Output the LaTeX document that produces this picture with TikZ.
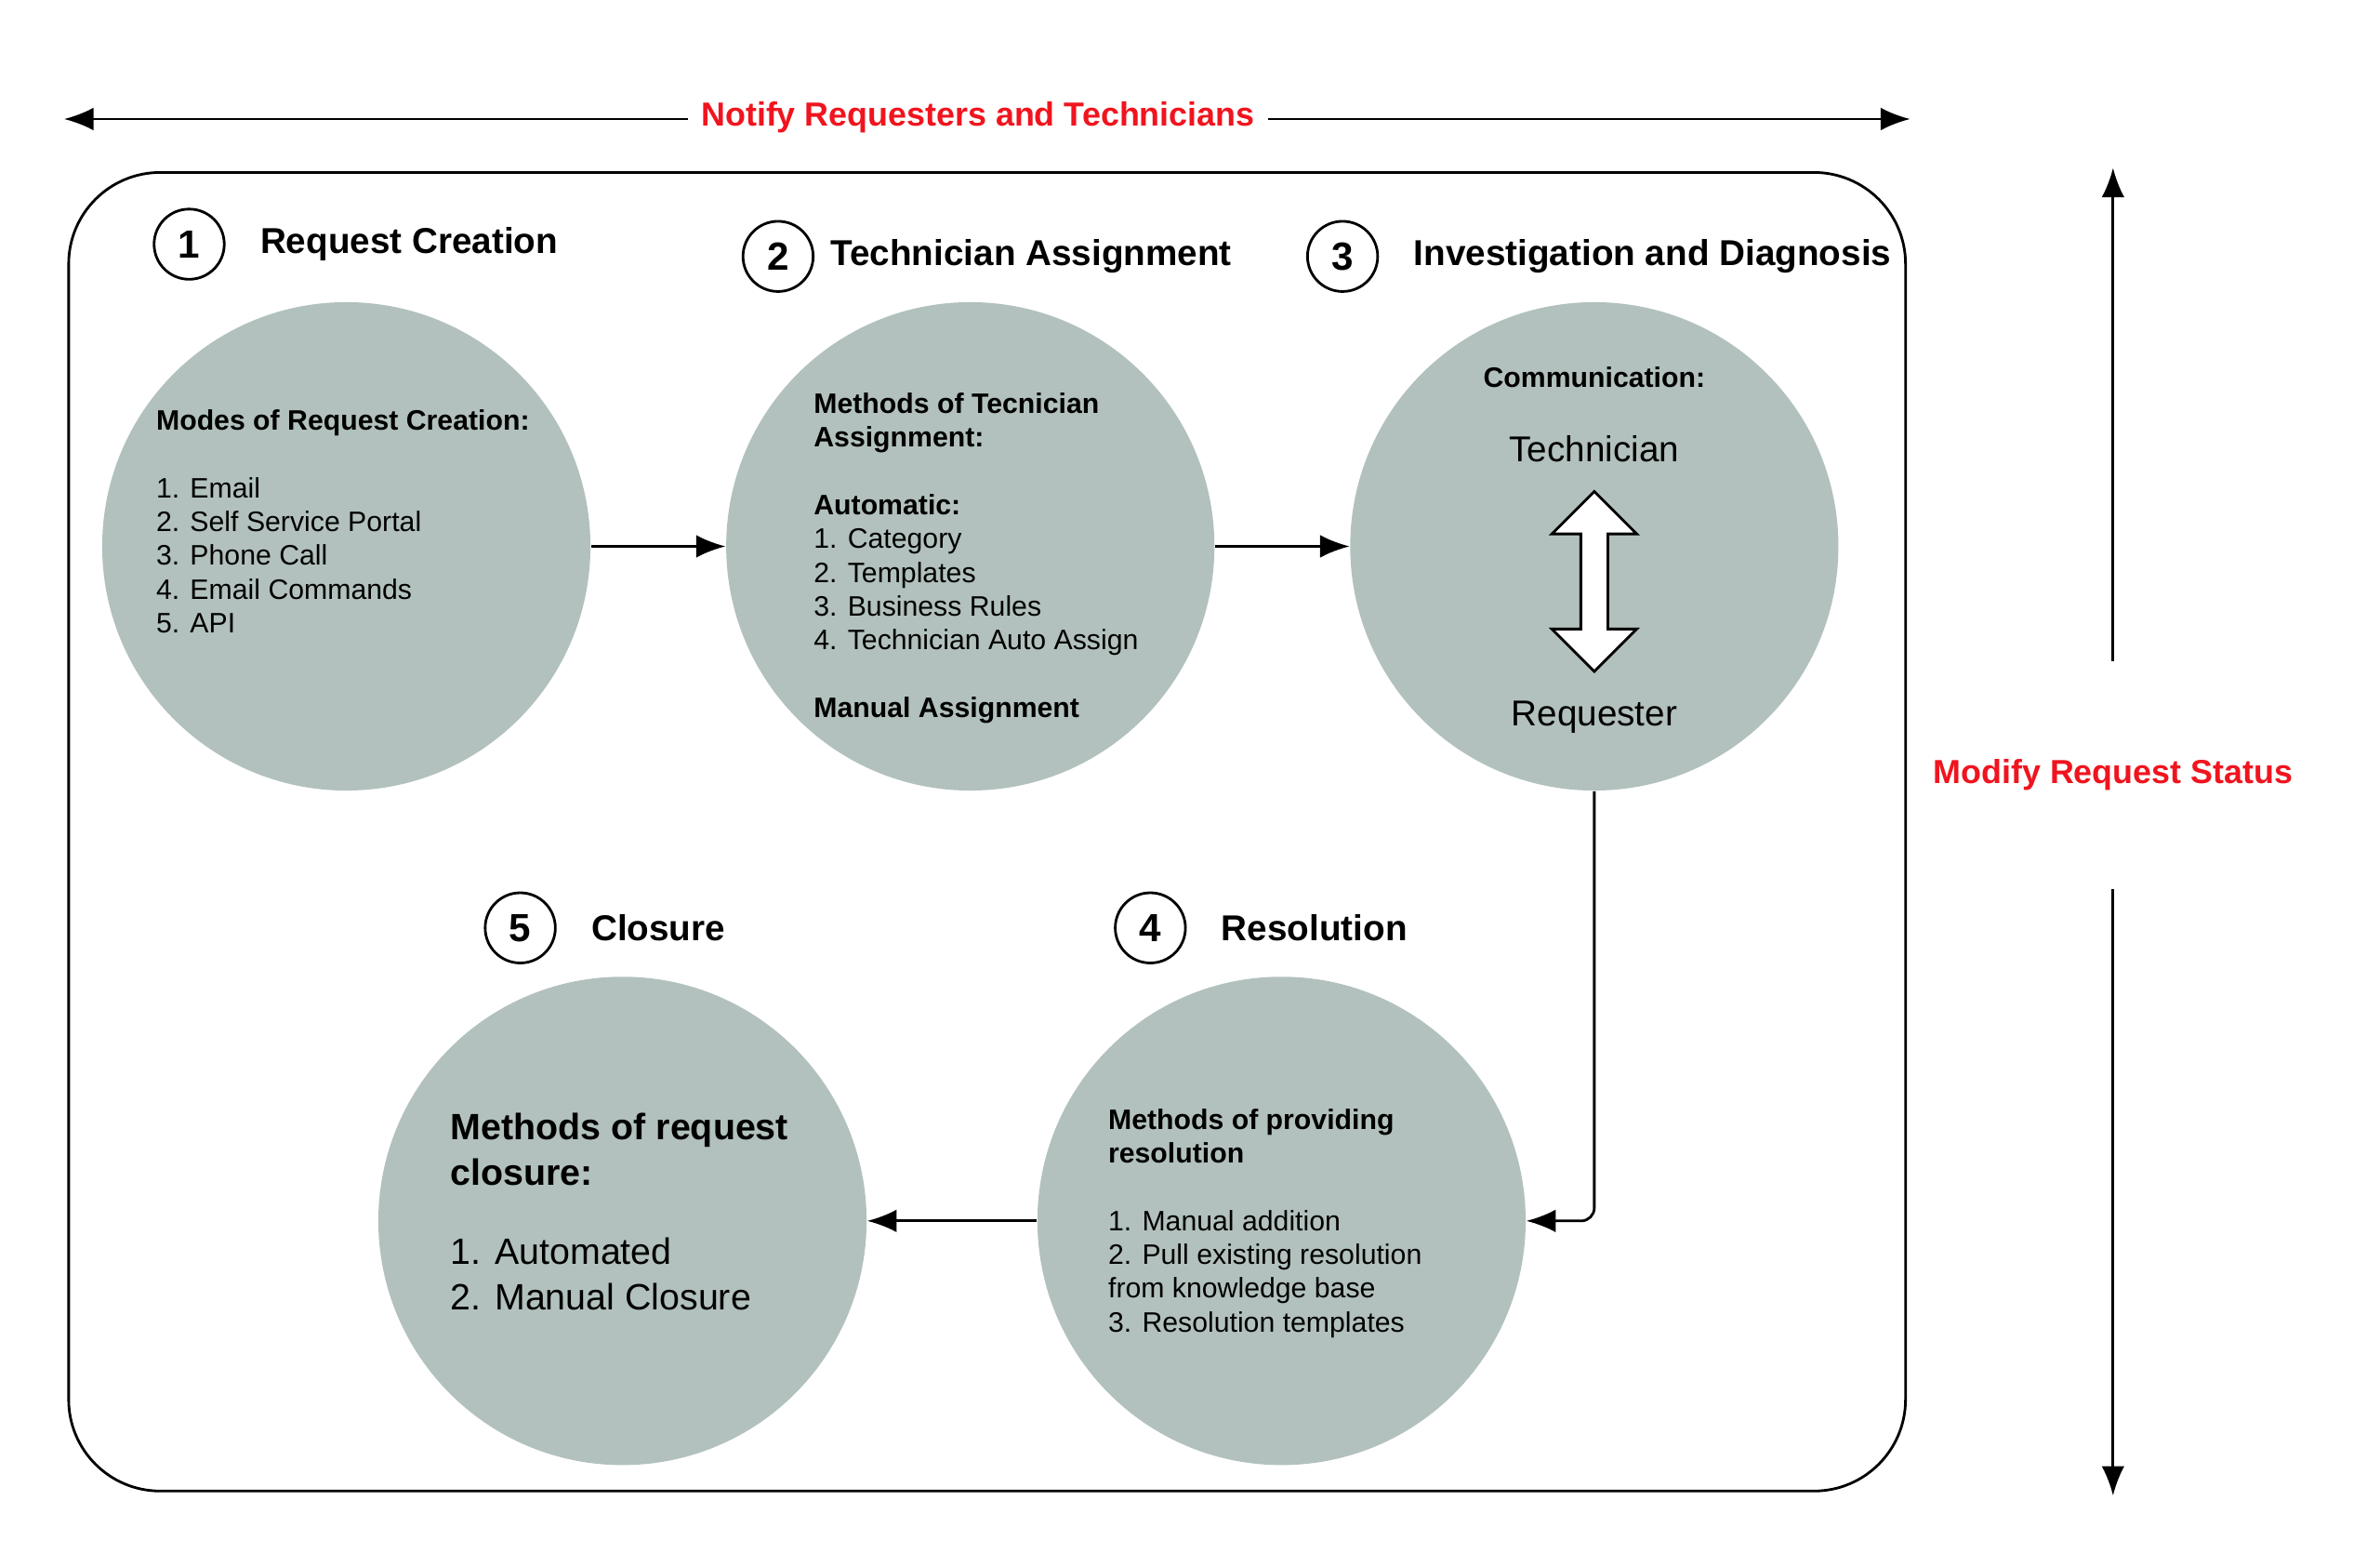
\documentclass[tikz,border=0pt]{standalone}
\usepackage{fontspec}
\setmainfont{Liberation Sans}
\usetikzlibrary{positioning, arrows.meta, shapes.arrows}

\definecolor{stagegray}{HTML}{B2C1BD}
\definecolor{notered}{HTML}{F0141E}

\begin{document}
\begin{tikzpicture}[
    x=0.01641cm, y=-0.01641cm,
    stage/.style={circle, fill=stagegray, minimum size=320*0.01641cm, inner sep=0pt},
    num/.style={circle, draw=black, thick, minimum size=46*0.01641cm, inner sep=0pt, font=\bfseries\large},
    title/.style={right=0.25cm of #1, font=\bfseries\fontsize{11}{13}\selectfont},
    body/.style={anchor=north west, align=left, inner sep=0pt, font=\fontsize{8.6}{10.3}\selectfont},
    arrow/.style={-{Latex[length=9pt,width=7pt]}, thick},
    redlabel/.style={text=notered, font=\bfseries\fontsize{10.2}{12}\selectfont, fill=white, inner sep=4pt}
]
\useasboundingbox (0,0) rectangle (1560,1018);

% --- Frame and outer arrows ---
\draw[thick, rounded corners=28] (45,113) rectangle (1249,977);
\coordinate (nl) at (42,78);
\coordinate (nr) at (1252,78);
\draw[{Latex[length=9pt,width=7pt]}-{Latex[length=9pt,width=7pt]}, thick] (nl) -- (nr);
\node[redlabel] (notify) at (641,77) {Notify Requesters and Technicians};
\coordinate (mt) at (1385,110);
\coordinate (mb) at (1385,980);
\draw[{Latex[length=9pt,width=7pt]}-{Latex[length=9pt,width=7pt]}, thick] (mt) -- (mb);
\node[redlabel, inner ysep=30pt] (modify) at (1385,508) {Modify Request Status};

% --- Stages ---
\node[stage] (creation) at (227,358) {};
\node[stage] (assign) at (636,358) {};
\node[stage] (diagnose) at (1045,358) {};
\node[stage] (resolve) at (840,800) {};
\node[stage] (closure) at (408,800) {};

% --- Numbers and titles ---
\node[num] (n1) at (124,160) {1};
\node[title=n1] {Request Creation};
\node[num] (n2) at (510,168) {2};
\node[title=n2, right=0.05cm of n2] {Technician Assignment};
\node[num] (n3) at (880,168) {3};
\node[title=n3] {Investigation and Diagnosis};
\node[num] (n4) at (754,608) {4};
\node[title=n4] {Resolution};
\node[num] (n5) at (341,608) {5};
\node[title=n5] {Closure};

% --- Stage contents ---
\node[body] (t1) at (102,268) {\textbf{Modes of Request Creation:}\\[10.5pt]
  1. Email\\2. Self Service Portal\\3. Phone Call\\4. Email Commands\\5. API};
\node[body] (t2) at (533,257) {\textbf{Methods of Tecnician}\\\textbf{Assignment:}\\[10.5pt]
  \textbf{Automatic:}\\1. Category\\2. Templates\\3. Business Rules\\4. Technician Auto Assign\\[10.5pt]
  \textbf{Manual Assignment}};
\node[body, anchor=north] (t3) at (1045,240) {\textbf{Communication:}};
\node[font=\fontsize{11}{13}\selectfont] (tech) at (1045,294) {Technician};
\node[font=\fontsize{11}{13}\selectfont] (req) at (1045,470) {Requester};
\node[double arrow, draw=black, thick, fill=white, rotate=90, minimum width=26pt,
  double arrow head extend=3pt, minimum height=118*0.01641cm, inner sep=1pt] (comm) at (1045,381) {};
\node[body] (t4) at (726,726) {\textbf{Methods of providing}\\\textbf{resolution}\\[10.5pt]
  1. Manual addition\\2. Pull existing resolution\\from knowledge base\\3. Resolution templates};
\node[body, font=\fontsize{11.2}{14}\selectfont] (t5) at (295,729) {\textbf{Methods of request}\\\textbf{closure:}\\[10pt]
  1. Automated\\2. Manual Closure};

% --- Flow ---
\draw[arrow] (creation) -- (assign);
\draw[arrow] (assign) -- (diagnose);
\draw[arrow, rounded corners=4pt] (diagnose.south) |- (resolve.east);
\draw[arrow] (resolve) -- (closure);

\end{tikzpicture}
\end{document}
